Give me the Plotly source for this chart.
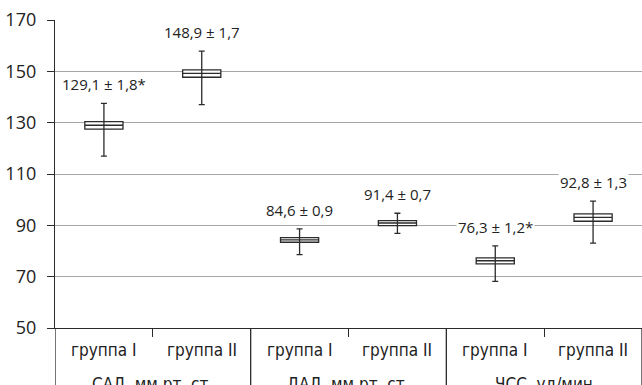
import plotly.graph_objects as go

groups = ["САД, мм рт. ст.", "ДАД, мм рт. ст.", "ЧСС, уд/мин"]
subgroups = ["группа I", "группа II", "группа I", "группа II", "группа I", "группа II"]
lower = [117.0, 137.0, 78.6, 86.9, 68.2, 83.1]
q1 = [127.5, 147.7, 83.4, 89.9, 75.0, 91.6]
median = [129.0, 149.2, 84.3, 90.9, 76.2, 93.1]
q3 = [130.4, 150.6, 85.2, 91.8, 77.3, 94.5]
upper = [137.5, 157.9, 88.6, 94.7, 82.0, 99.4]
labels = ["129,1 ± 1,8*", "148,9 ± 1,7", "84,6 ± 0,9", "91,4 ± 0,7", "76,3 ± 1,2*", "92,8 ± 1,3"]
y_ticks = [50, 70, 90, 110, 130, 150, 170]

n = len(subgroups)
per_group = n // len(groups)
xpos = list(range(n))
dark = "#2b2b2b"
txt = "#222222"
cat_font = "DejaVu Sans Condensed, Liberation Sans Narrow, sans-serif"

fig = go.Figure()
fig.add_trace(go.Box(
    x=xpos, q1=q1, median=median, q3=q3, lowerfence=q1, upperfence=q3,
    width=0.39, fillcolor="white", line=dict(color=dark, width=1.3),
    whiskerwidth=0, boxpoints=False, showlegend=False, hoverinfo="skip",
))
fig.add_trace(go.Scatter(
    x=xpos, y=median, mode="markers", marker=dict(size=1, color=dark, opacity=0),
    error_y=dict(type="data", symmetric=False,
                 array=[u - m for u, m in zip(upper, median)],
                 arrayminus=[m - l for m, l in zip(median, lower)],
                 color=dark, thickness=1.3, width=3),
    showlegend=False, hoverinfo="skip",
))

# value labels
for i, (u, t) in enumerate(zip(upper, labels)):
    fig.add_annotation(x=xpos[i], y=u, text=t, showarrow=False,
                       yanchor="bottom", yshift=7, bgcolor="white", borderpad=1,
                       font=dict(family="Open Sans", size=15, color=txt))

# category labels (first level)
for i, s in enumerate(subgroups):
    fig.add_annotation(x=xpos[i], y=0, yref="paper", text=s, showarrow=False,
                       yanchor="middle", yshift=-22,
                       font=dict(family=cat_font, size=17, color=txt))

# group labels (second level) and dividers
for g, name in enumerate(groups):
    c = (g * per_group + (g + 1) * per_group - 1) / 2
    fig.add_annotation(x=c, y=0, yref="paper", text=name, showarrow=False,
                       yanchor="top", yshift=-44,
                       font=dict(family=cat_font, size=17, color=txt))
for g in range(len(groups) + 1):
    xb = g * per_group - 0.5
    fig.add_shape(type="line", xref="x", yref="paper", x0=xb, x1=xb, y0=0, y1=-0.3,
                  line=dict(color=dark, width=1.3))

fig.update_layout(
    width=642, height=385,
    margin=dict(l=55, r=0, t=20, b=57),
    paper_bgcolor="white", plot_bgcolor="white",
    showlegend=False,
)
fig.update_yaxes(
    range=[50, 170], tickvals=y_ticks, ticktext=[str(v) for v in y_ticks],
    showgrid=True, gridcolor="#a6a6a6", gridwidth=1,
    showline=True, linecolor=dark, linewidth=1.3,
    ticks="outside", ticklen=7, tickcolor=dark, ticklabelstandoff=7,
    tickfont=dict(family="Open Sans", size=18, color=txt),
    zeroline=False, automargin=False,
)
fig.update_xaxes(
    range=[-0.5, n - 0.5],
    tickvals=[g * per_group + 0.5 for g in range(len(groups))],
    showticklabels=False,
    showline=True, linecolor=dark, linewidth=1.3,
    ticks="outside", ticklen=8, tickcolor=dark,
    showgrid=False, zeroline=False, automargin=False,
)
fig.write_html("out.html", config={"displayModeBar": False},
               post_script="document.body.style.margin='0';document.body.style.overflow='hidden';")
